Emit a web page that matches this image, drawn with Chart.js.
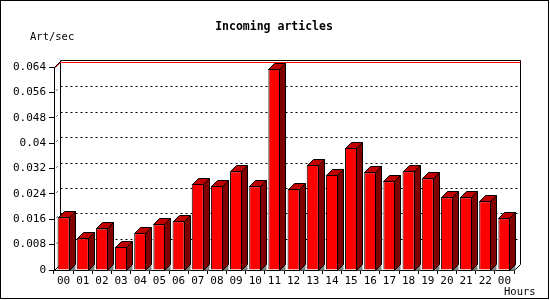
<!DOCTYPE html>
<html>
<head>
<meta charset="utf-8">
<style>
  html, body { margin: 0; padding: 0; background: #fff; }
  #wrap { width: 550px; height: 300px; }
</style>
</head>
<body>
<div id="wrap"><canvas id="articlesChart" width="550" height="300"></canvas></div>

<script src="https://cdn.jsdelivr.net/npm/chart.js"></script>
<script>
var hours = ['00', '01', '02', '03', '04', '05', '06', '07', '08', '09', '10', '11',
             '12', '13', '14', '15', '16', '17', '18', '19', '20', '21', '22', '00'];
var artPerSec = [0.0166, 0.0100, 0.0131, 0.0073, 0.0116, 0.0144, 0.0154, 0.0271,
                 0.0265, 0.0311, 0.0264, 0.0634, 0.0255, 0.0331, 0.0300, 0.0385,
                 0.0308, 0.0280, 0.0311, 0.0289, 0.0229, 0.0229, 0.0217, 0.0163];
var yTicks = [0, 0.008, 0.016, 0.024, 0.032, 0.04, 0.048, 0.056, 0.064];

var DEPTH = 6;
var MONO = '"DejaVu Sans Mono", "Liberation Mono", monospace';

function poly(ctx, pts, fill) {
    ctx.beginPath();
    ctx.moveTo(pts[0][0], pts[0][1]);
    for (var i = 1; i < pts.length; i++) ctx.lineTo(pts[i][0], pts[i][1]);
    ctx.closePath();
    if (fill) {
        ctx.fillStyle = fill;
        ctx.fill();
    }
}

function line(ctx, x1, y1, x2, y2) {
    ctx.beginPath();
    ctx.moveTo(x1, y1);
    ctx.lineTo(x2, y2);
    ctx.stroke();
}

// back wall, dotted grid and the 3d faces of the bars
var box3d = {
    id: 'box3d',
    beforeDatasetsDraw: function(chart) {
        var ctx = chart.ctx, a = chart.chartArea, y = chart.scales.y;
        var L = a.left + 0.5, R = a.right + 0.5, T = a.top + 0.5, B = a.bottom + 0.5;
        ctx.save();
        ctx.strokeStyle = '#000';
        ctx.lineWidth = 1;

        // dotted grid on the back plane
        ctx.setLineDash([2, 3]);
        yTicks.forEach(function(v) {
            if (v === 0 || v === yTicks[yTicks.length - 1]) return;
            var py = Math.round(y.getPixelForValue(v)) + 0.5;
            line(ctx, L + DEPTH, py - DEPTH, R + DEPTH, py - DEPTH);
        });
        ctx.setLineDash([]);
        yTicks.forEach(function(v) {
            if (v === 0 || v === yTicks[yTicks.length - 1]) return;
            var py = Math.round(y.getPixelForValue(v)) + 0.5;
            line(ctx, L + 2, py - 2, L + 3, py - 3);
        });

        // back wall edges
        line(ctx, L, T, L + DEPTH, T - DEPTH);
        line(ctx, L + DEPTH, T - DEPTH - 1, R + DEPTH, T - DEPTH - 1);
        line(ctx, L + DEPTH, T - DEPTH - 1, L + DEPTH, B - DEPTH);
        line(ctx, R + DEPTH, T - DEPTH - 1, R + DEPTH, B - DEPTH);
        line(ctx, L, B, L + DEPTH, B - DEPTH);
        line(ctx, R, B, R + DEPTH, B - DEPTH);

        // red max line
        ctx.strokeStyle = '#ff0000';
        line(ctx, L + 1, T, L + DEPTH + 1, T - DEPTH);
        line(ctx, L + DEPTH + 1, T - DEPTH + 1, R + DEPTH, T - DEPTH + 1);
        ctx.restore();
    },
    afterDatasetsDraw: function(chart) {
        var ctx = chart.ctx;
        var meta = chart.getDatasetMeta(0);
        ctx.save();
        ctx.strokeStyle = '#000';
        ctx.lineWidth = 1;
        meta.data.forEach(function(bar) {
            var p = bar.getProps(['x', 'y', 'base', 'width'], true);
            var l = Math.round(p.x - p.width / 2) + 0.5;
            var r = Math.round(p.x + p.width / 2) - 0.5;
            var t = Math.round(p.y) + 0.5;
            var b = Math.round(p.base) + 0.5;

            poly(ctx, [[r, b], [r + DEPTH, b - DEPTH], [r + DEPTH, b]], '#808080');

            poly(ctx, [[l, t], [l + DEPTH, t - DEPTH], [r + DEPTH, t - DEPTH], [r, t]], '#c00000');
            ctx.stroke();
            poly(ctx, [[r, t], [r + DEPTH, t - DEPTH], [r + DEPTH, b - DEPTH], [r, b]], '#800000');
            ctx.stroke();
        });
        ctx.restore();
    },
    afterDraw: function(chart) {
        var ctx = chart.ctx;
        ctx.save();
        ctx.strokeStyle = '#000';
        ctx.lineWidth = 1;
        ctx.strokeRect(0.5, 0.5, 548, 298);

        ctx.fillStyle = '#000';
        ctx.textBaseline = 'middle';
        ctx.font = 'bold 11.5px ' + MONO;
        ctx.textAlign = 'center';
        ctx.fillText('Incoming articles', 274, 27);

        ctx.font = '10.5px ' + MONO;
        ctx.textAlign = 'left';
        ctx.fillText('Art/sec', 30, 37);
        ctx.fillText('Hours', 504, 292);
        ctx.restore();
    }
};

var ctx = document.getElementById('articlesChart').getContext('2d');

new Chart(ctx, {
    type: 'bar',
    data: {
        labels: hours,
        datasets: [{
            label: 'Art/sec',
            data: artPerSec,
            backgroundColor: '#ff0000',
            borderColor: '#000000',
            borderWidth: 1,
            categoryPercentage: 1,
            barPercentage: 0.63
        }]
    },
    options: {
        responsive: false,
        animation: false,
        events: [],
        layout: {
            padding: { left: 0, right: 36, top: 67, bottom: 14 }
        },
        plugins: {
            legend: { display: false },
            title: { display: false },
            tooltip: { enabled: false }
        },
        scales: {
            x: {
                offset: true,
                grid: {
                    offset: true,
                    drawOnChartArea: false,
                    tickLength: 4,
                    color: '#000'
                },
                border: { display: true, color: '#000' },
                ticks: {
                    autoSkip: false,
                    maxRotation: 0,
                    padding: 1,
                    color: '#000',
                    font: { family: MONO, size: 11 }
                },
                afterFit: function(s) { s.height = 16; }
            },
            y: {
                min: 0,
                max: 0.064,
                afterBuildTicks: function(s) {
                    s.ticks = yTicks.map(function(v) { return { value: v }; });
                },
                grid: {
                    drawOnChartArea: false,
                    tickLength: 5,
                    color: '#000'
                },
                border: { display: true, color: '#000' },
                ticks: {
                    padding: 3,
                    color: '#000',
                    font: { family: MONO, size: 11 },
                    callback: function(v) { return String(+v.toFixed(3)); }
                },
                afterFit: function(s) { s.width = 54; }
            }
        }
    },
    plugins: [box3d]
});
</script>
</body>
</html>
